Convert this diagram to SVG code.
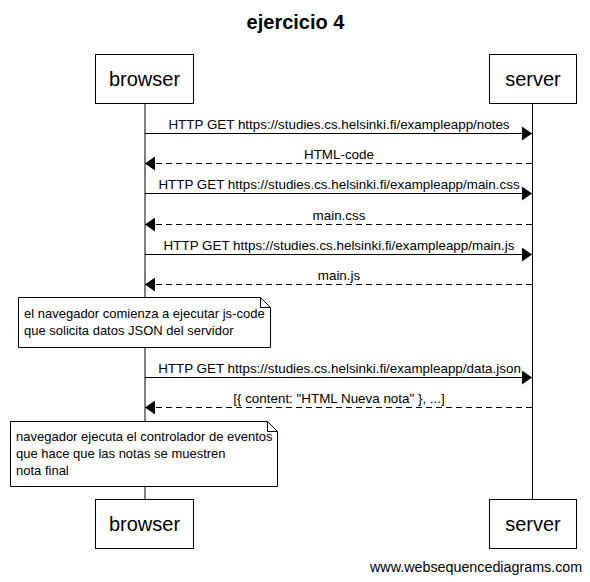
<svg xmlns="http://www.w3.org/2000/svg" width="590" height="582" viewBox="0 0 590 582">
<style>
.box{fill:#fff;stroke:#000;stroke-width:1}
.life{stroke:#000;stroke-width:1}
.msg{stroke:#000;stroke-width:1;fill:none}
.dash{stroke-dasharray:6,4}
.actor{font-family:"Liberation Sans",Arial,sans-serif;font-size:20px;text-anchor:middle}
.lbl{font-family:"Liberation Sans",Arial,sans-serif;font-size:13.4px;text-anchor:middle}
.note{font-family:"Liberation Sans",Arial,sans-serif;font-size:13px}
.title{font-family:"Liberation Sans",Arial,sans-serif;font-size:20px;font-weight:bold;text-anchor:middle}
</style>
<defs>
<marker id="ah" markerWidth="10" markerHeight="14" refX="10" refY="7" orient="auto" markerUnits="userSpaceOnUse"><path d="M0,0 L10,7 L0,14 Z" fill="#000"/></marker>
</defs>
<rect width="590" height="582" fill="#fff"/>
<text class="title" x="295.5" y="29">ejercicio 4</text>
<g id="lifelines">
<line class="life" x1="145" y1="103" x2="145" y2="499"/>
<line class="life" x1="532.5" y1="103" x2="532.5" y2="499"/>
</g>
<g id="browser-top"><rect class="box" x="95.5" y="54.5" width="98" height="49"/><text class="actor" x="144.5" y="86">browser</text></g>
<g id="server-top"><rect class="box" x="489.5" y="54.5" width="87" height="49"/><text class="actor" x="533" y="86">server</text></g>
<g id="browser-bottom"><rect class="box" x="95.5" y="499.5" width="98" height="49"/><text class="actor" x="144.5" y="531">browser</text></g>
<g id="server-bottom"><rect class="box" x="489.5" y="499.5" width="87" height="49"/><text class="actor" x="533" y="531">server</text></g>
<g id="connectors">
<line class="msg" x1="145" y1="133.5" x2="532" y2="133.5" marker-end="url(#ah)"/>
<text class="lbl" x="339" y="129">HTTP GET https://studies.cs.helsinki.fi/exampleapp/notes</text>
<line class="msg dash" x1="532" y1="163.5" x2="145" y2="163.5" marker-end="url(#ah)"/>
<text class="lbl" x="339" y="159">HTML-code</text>
<line class="msg" x1="145" y1="193.5" x2="532" y2="193.5" marker-end="url(#ah)"/>
<text class="lbl" x="339" y="189">HTTP GET https://studies.cs.helsinki.fi/exampleapp/main.css</text>
<line class="msg dash" x1="532" y1="224.5" x2="145" y2="224.5" marker-end="url(#ah)"/>
<text class="lbl" x="339" y="220">main.css</text>
<line class="msg" x1="145" y1="254.5" x2="532" y2="254.5" marker-end="url(#ah)"/>
<text class="lbl" x="339" y="250">HTTP GET https://studies.cs.helsinki.fi/exampleapp/main.js</text>
<line class="msg dash" x1="532" y1="284.5" x2="145" y2="284.5" marker-end="url(#ah)"/>
<text class="lbl" x="339" y="280">main.js</text>
<line class="msg" x1="145" y1="377.5" x2="532" y2="377.5" marker-end="url(#ah)"/>
<text class="lbl" x="339.5" y="373">HTTP GET https://studies.cs.helsinki.fi/exampleapp/data.json</text>
<line class="msg dash" x1="532" y1="407.5" x2="145" y2="407.5" marker-end="url(#ah)"/>
<text class="lbl" x="339" y="403">[{ content: "HTML Nueva nota" }, ...]</text>
</g>
<g id="note1">
<path class="box" d="M18.5,297.5 H260.5 L270.5,307.5 V347.5 H18.5 Z"/>
<path class="msg" d="M260.5,297.5 V307.5 H270.5"/>
<text class="note" x="24" y="318">el navegador comienza a ejecutar js-code</text>
<text class="note" x="24" y="335">que solicita datos JSON del servidor</text>
</g>
<g id="note2">
<path class="box" d="M10.5,421.5 H267.5 L277.5,431.5 V486.5 H10.5 Z"/>
<path class="msg" d="M267.5,421.5 V431.5 H277.5"/>
<text class="note" x="16" y="441">navegador ejecuta el controlador de eventos</text>
<text class="note" x="16" y="458">que hace que las notas se muestren</text>
<text class="note" x="16" y="475">nota final</text>
</g>
<text class="note" x="370" y="572" style="font-size:14.3px">www.websequencediagrams.com</text>
</svg>
